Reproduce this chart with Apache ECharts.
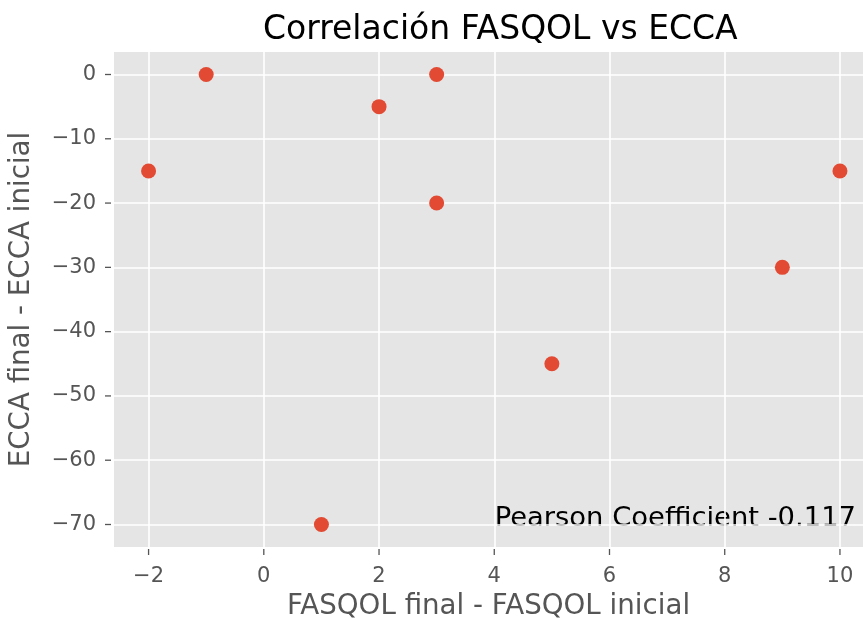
<!DOCTYPE html>
<html><head><meta charset="utf-8">
<script src="https://cdn.jsdelivr.net/npm/echarts@6/dist/echarts.min.js"></script>
<style>html,body{margin:0;padding:0;background:#fff}#c{width:863px;height:620px}</style>
</head><body><div id="c"></div>
<script>
const xValues = [-2, -1, 1, 2, 3, 3, 5, 9, 10];
const yValues = [-15, 0, -70, -5, 0, -20, -45, -30, -15];
const xTicks = [-2, 0, 2, 4, 6, 8, 10];
const yTicks = [0, -10, -20, -30, -40, -50, -60, -70];
const titleText = 'Correlación FASQOL vs ECCA';
const xName = 'FASQOL final - FASQOL inicial';
const yName = 'ECCA final - ECCA inicial';
const note = 'Pearson Coefficient -0.117';

const X_MIN = -2.6, X_MAX = 10.4, Y_MIN = -73.5, Y_MAX = 3.5;
const font = 'DejaVu Sans';
const fmt = v => (v < 0 ? '\u2212' + Math.abs(v) : String(v));
const tickLine = { stroke: '#555', lineWidth: 1.3 };
const chart = echarts.init(document.getElementById('c'));
chart.setOption({
  animation: false,
  title: { text: titleText, left: 258, top: 9,
    textStyle: { fontFamily: font, fontSize: 33, fontWeight: 'normal', color: '#000' } },
  grid: { left: 114, top: 52, right: 0, bottom: 73, containLabel: false, outerBoundsMode: 'none',
    show: true, backgroundColor: '#E5E5E5', borderWidth: 0 },
  xAxis: {
    type: 'value', min: X_MIN, max: X_MAX, position: 'bottom',
    name: xName, nameLocation: 'middle', nameGap: 46,
    nameTextStyle: { fontFamily: font, fontSize: 27.7, color: '#555' },
    axisLine: { show: false, onZero: false },
    axisTick: { show: false, customValues: xTicks },
    axisLabel: { show: true, customValues: xTicks, fontFamily: font, fontSize: 21, color: '#555', margin: 19, formatter: fmt },
    splitLine: { show: true, lineStyle: { color: '#fff', width: 1.6 } }
  },
  yAxis: {
    type: 'value', min: Y_MIN, max: Y_MAX, position: 'left',
    name: yName, nameLocation: 'middle', nameGap: 78, nameRotate: 90,
    nameTextStyle: { fontFamily: font, fontSize: 27.7, color: '#555' },
    axisLine: { show: false, onZero: false },
    axisTick: { show: false, customValues: yTicks },
    axisLabel: { show: true, customValues: yTicks, fontFamily: font, fontSize: 21, color: '#555', margin: 18, formatter: fmt },
    splitLine: { show: true, lineStyle: { color: '#fff', width: 1.6 } }
  },
  series: [
    {
      type: 'scatter', symbolSize: 15,
      itemStyle: { color: '#E24A33', opacity: 1 },
      data: xValues.map((x, i) => [x, yValues[i]])
    },
    {
      type: 'custom', silent: true, clip: false,
      data: xTicks.map(v => [v, Y_MIN]),
      renderItem: (params, api) => {
        const p = api.coord([api.value(0), api.value(1)]);
        return { type: 'line', shape: { x1: p[0], y1: p[1] + 2, x2: p[0], y2: p[1] + 8 }, style: tickLine };
      }
    },
    {
      type: 'custom', silent: true, clip: false,
      data: yTicks.map(v => [X_MIN, v]),
      renderItem: (params, api) => {
        const p = api.coord([api.value(0), api.value(1)]);
        return { type: 'line', shape: { x1: p[0] - 9, y1: p[1], x2: p[0] - 3, y2: p[1] }, style: tickLine };
      }
    }
  ],
  graphic: [{
    type: 'text', right: 7, top: 505,
    style: { text: note, fontFamily: font, fontSize: 27.4, fill: '#000' }
  }]
});
</script></body></html>
